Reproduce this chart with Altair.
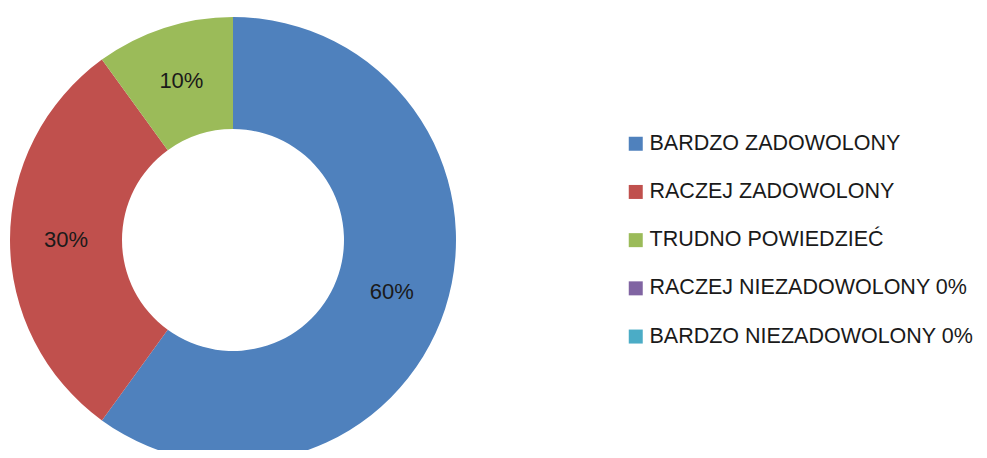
import altair as alt
import pandas as pd

categories = ["BARDZO ZADOWOLONY", "RACZEJ ZADOWOLONY", "TRUDNO POWIEDZIEĆ",
              "RACZEJ NIEZADOWOLONY 0%", "BARDZO NIEZADOWOLONY 0%"]
values = [60, 30, 10, 0, 0]
labels = ["60%", "30%", "10%", "", ""]
colors = ["#4F81BD", "#C0504D", "#9BBB59", "#8064A2", "#4BACC6"]

df = pd.DataFrame({"category": categories, "value": values, "label": labels,
                   "idx": list(range(len(categories)))})

FONT = "Liberation Sans"
CX, CY = 225, 232

base = alt.Chart(df).encode(
    theta=alt.Theta("value:Q", stack=True),
    order=alt.Order("idx:Q"),
)

arc = base.mark_arc(outerRadius=223, innerRadius=111).encode(
    color=alt.Color(
        "category:N",
        scale=alt.Scale(domain=categories, range=colors),
        sort=categories,
        legend=alt.Legend(
            title=None, orient="none", legendX=617, legendY=125,
            symbolType="square", symbolSize=196, symbolStrokeWidth=0,
            labelFont=FONT, labelFontSize=21.5, labelColor="#1a1a1a",
            labelOffset=3, rowPadding=25.2, labelLimit=500,
        ),
    ),
    x=alt.value(CX), y=alt.value(CY),
)

text = base.transform_filter("datum.value > 0").mark_text(
    radius=167, fontSize=22, font=FONT, color="#1a1a1a"
).encode(text="label:N", x=alt.value(CX), y=alt.value(CY))

chart = (arc + text).properties(
    width=971, height=442, autosize=alt.AutoSizeParams(type="none"), padding=0
).configure_view(stroke=None)

chart.save("out.html", embed_options={"renderer": "svg", "actions": False})
